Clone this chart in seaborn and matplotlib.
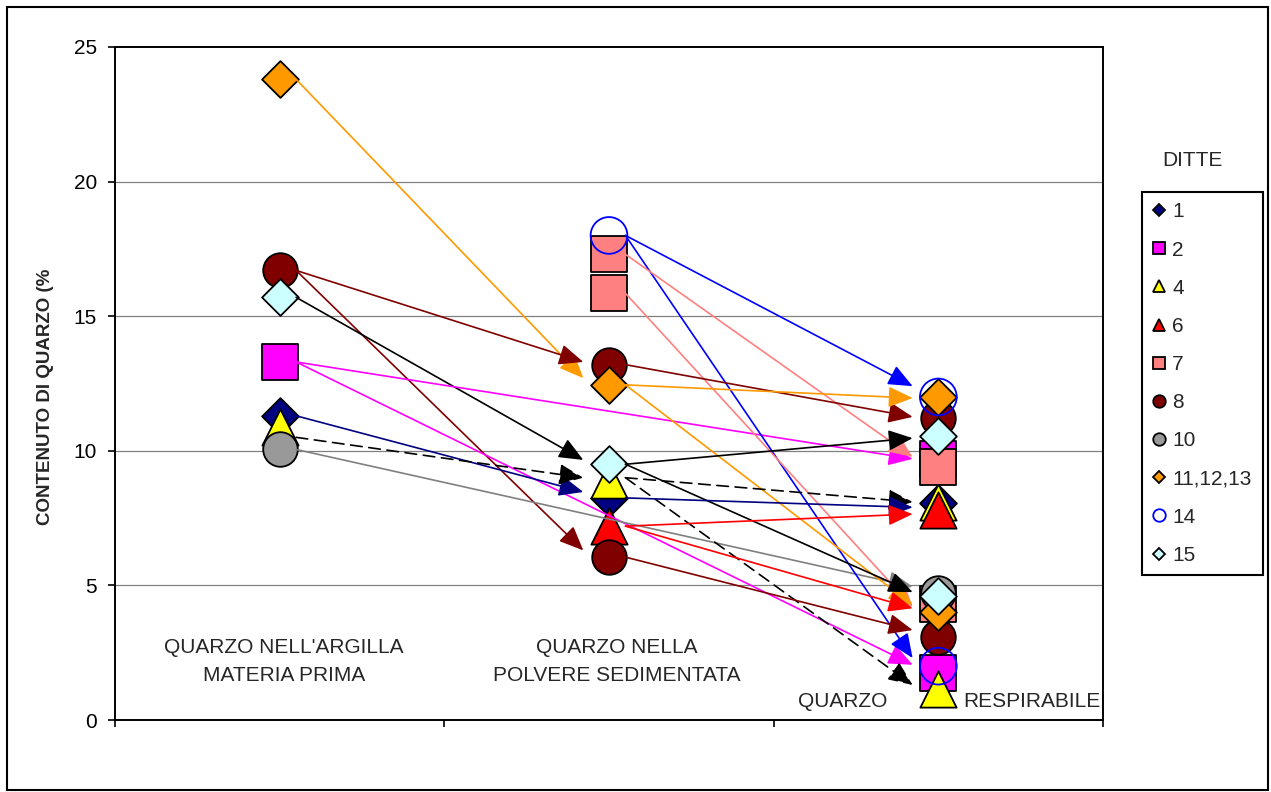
import matplotlib
matplotlib.use("Agg")
import matplotlib.pyplot as plt
import seaborn as sns
from matplotlib.lines import Line2D
from matplotlib.patches import Rectangle

# Dati (posizione 0/1/2 = fase, valore = % quarzo)
ditte = ["1", "2", "4", "6", "7", "8", "10", "11,12,13", "14", "15"]

pos_1 = [0, 1, 2]
val_1 = [11.3, 8.25, 8.05]
pos_2 = [0, 2, 2]
val_2 = [13.3, 9.7, 1.75]
pos_4 = [0, 1, 2, 2]
val_4 = [10.9, 8.9, 8.1, 1.15]
pos_6 = [1, 2]
val_6 = [7.2, 7.8]
pos_7 = [1, 1, 2, 2]
val_7 = [17.3, 15.85, 9.4, 4.3]
pos_8 = [0, 1, 1, 2, 2]
val_8 = [16.7, 13.2, 6.05, 11.2, 3.1]
pos_10 = [0, 2]
val_10 = [10.05, 4.7]
pos_11 = [0, 1, 2, 2]
val_11 = [23.8, 12.45, 12.0, 4.0]
pos_14 = [1, 2, 2]
val_14 = [18.0, 12.0, 2.0]
pos_15 = [0, 1, 2, 2]
val_15 = [15.7, 9.5, 10.55, 4.6]

# frecce: (ditta, fase di partenza, valore, fase di arrivo, valore)
frecce = [
    ("11,12,13", 0, 23.8, 1, 12.7),
    ("8", 0, 16.7, 1, 13.3),
    ("8", 0, 16.7, 1, 6.3),
    ("15", 0, 15.7, 1, 9.66),
    ("2", 0, 13.3, 2, 9.7),
    ("2", 0, 13.3, 2, 2.05),
    ("1", 0, 11.3, 1, 8.47),
    ("4", 0, 10.5, 1, 9.0),
    ("10", 0, 10.05, 2, 4.95),
    ("14", 1, 18.0, 2, 12.4),
    ("14", 1, 18.0, 2, 2.3),
    ("7", 1, 17.3, 2, 9.77),
    ("7", 1, 15.85, 2, 4.2),
    ("8", 1, 13.2, 2, 11.26),
    ("11,12,13", 1, 12.45, 2, 11.96),
    ("11,12,13", 1, 12.45, 2, 4.27),
    ("15", 1, 9.5, 2, 10.47),
    ("15", 1, 9.5, 2, 4.75),
    ("4", 1, 9.0, 2, 8.1),
    ("4", 1, 9.0, 2, 1.3),
    ("1", 1, 8.25, 2, 7.9),
    ("6", 1, 7.2, 2, 7.65),
    ("6", 1, 7.2, 2, 4.15),
    ("8", 1, 6.05, 2, 3.34),
]

etichette = ["QUARZO NELL'ARGILLA\nMATERIA PRIMA", "QUARZO NELLA\nPOLVERE SEDIMENTATA",
             "QUARZO", "RESPIRABILE"]

punti = {"1": (pos_1, val_1), "2": (pos_2, val_2), "4": (pos_4, val_4), "6": (pos_6, val_6),
         "7": (pos_7, val_7), "8": (pos_8, val_8), "10": (pos_10, val_10),
         "11,12,13": (pos_11, val_11), "14": (pos_14, val_14), "15": (pos_15, val_15)}

# stile dei marcatori: (marker, colore, bordo, s)
stile = {
    "1": ("D", "#000080", "black", 350),
    "2": ("s", "#FF00FF", "black", 700),
    "4": ("^", "#FFFF00", "black", 680),
    "6": ("^", "#FF0000", "black", 680),
    "7": ("s", "#FF8080", "black", 700),
    "8": ("o", "#800000", "black", 620),
    "10": ("o", "#999999", "black", 620),
    "11,12,13": ("D", "#FF9900", "black", 350),
    "14": ("o", "none", "#0000FF", 700),
    "15": ("D", "#CCFFFF", "black", 350),
}
colore_freccia = {"1": "#000080", "2": "#FF00FF", "4": "black", "6": "#FF0000", "7": "#FF8080",
                  "8": "#800000", "10": "#808080", "11,12,13": "#FF9900", "14": "#0000FF",
                  "15": "black"}

sns.set_style("white")
plt.rcParams["font.family"] = ["Liberation Sans", "DejaVu Sans"]

fig = plt.figure(figsize=(12.71, 7.92), dpi=100)
ax = fig.add_axes([115 / 1271, 1 - 720 / 792, 988 / 1271, 673 / 792])

for y in [5, 10, 15, 20]:
    ax.axhline(y, color="#808080", lw=0.9, zorder=1)

for d in ditte:
    m, fc, ec, s = stile[d]
    x, v = punti[d]
    sns.scatterplot(x=x, y=v, marker=m, s=s, color=ec if fc == "none" else fc,
                    facecolor=fc, edgecolor=ec, linewidth=1.3, ax=ax, zorder=3, legend=False)

for d, p0, v0, p1, v1 in frecce:
    ls = (0, (7, 4)) if d == "4" else "-"
    ax.annotate("", xy=(p1 - 0.078, v1), xytext=(p0 + 0.05, v0),
                arrowprops=dict(arrowstyle="-|>,head_length=0.75,head_width=0.32",
                                color=colore_freccia[d], lw=1.2, linestyle=ls,
                                shrinkA=0, shrinkB=0, mutation_scale=20),
                zorder=4)

ax.text(0.013, 2.17, etichette[0], ha="center", va="center", fontsize=15, linespacing=1.6)
ax.text(1.024, 2.17, etichette[1], ha="center", va="center", fontsize=15, linespacing=1.6)
ax.text(1.711, 0.67, etichette[2], ha="center", va="center", fontsize=15)
ax.text(2.285, 0.67, etichette[3], ha="center", va="center", fontsize=15)

ax.set_xlim(-0.5, 2.5)
ax.set_ylim(0, 25)
ax.set_xticks([-0.5, 0.5, 1.5, 2.5])
ax.set_xticklabels([])
ax.set_yticks([0, 5, 10, 15, 20, 25])
ax.tick_params(axis="both", direction="out", length=5, width=1.2, colors="black",
               labelsize=15, left=True, bottom=True)
ax.tick_params(axis="y", pad=8)
for sp in ax.spines.values():
    sp.set_color("black")
    sp.set_linewidth(1.4)
ax.set_xlabel("")
ax.set_ylabel("CONTENUTO DI QUARZO (%", fontsize=13.5, fontweight="bold")
ax.yaxis.set_label_coords(-0.062, 0.48)

handles = []
for d in ditte:
    m, fc, ec, s = stile[d]
    ms = 9 if m != "D" else 6.5
    handles.append(Line2D([], [], linestyle="none", marker=m, markersize=ms,
                          markerfacecolor=fc, markeredgecolor=ec, markeredgewidth=1.3))
leg = ax.legend(handles, ditte, loc="upper left", mode="expand",
                bbox_to_anchor=(1142 / 1271, 0, 121 / 1271, 1 - 192 / 792),
                bbox_transform=fig.transFigure, frameon=True, fancybox=False,
                edgecolor="black", framealpha=1, borderaxespad=0, fontsize=15,
                handlelength=0.6, handletextpad=0.35, borderpad=0.5, labelspacing=0.92)
leg.get_frame().set_linewidth(1.5)
fig.text(1192 / 1271, 1 - 160 / 792, "DITTE", ha="center", va="center", fontsize=15)

fig.patches.append(Rectangle((7 / 1271, 2 / 792), 1261 / 1271, 783 / 792,
                             transform=fig.transFigure, fill=False,
                             edgecolor="black", lw=1.5))

fig.savefig("out.png", dpi=100)
